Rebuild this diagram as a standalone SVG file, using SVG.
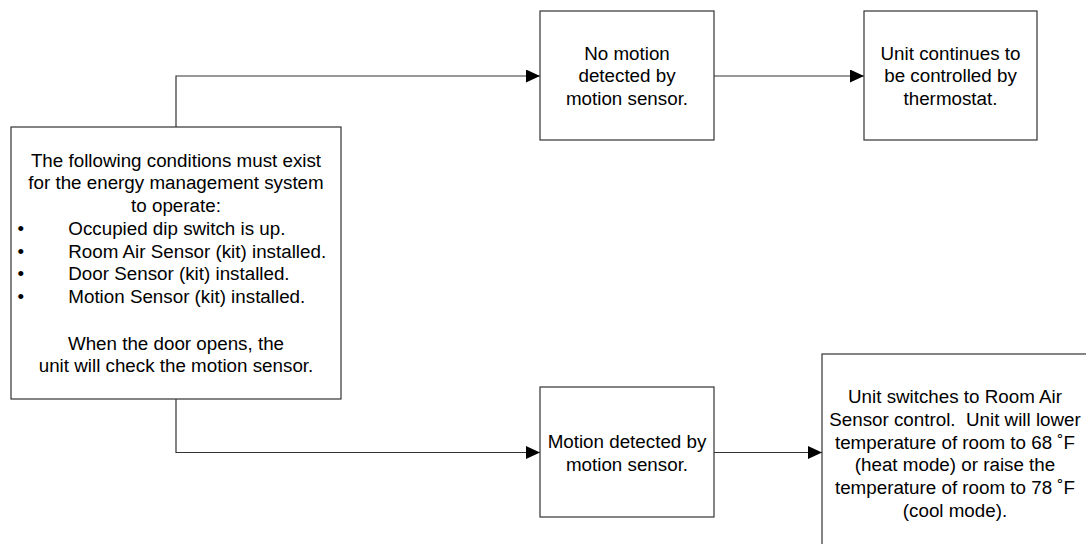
<svg xmlns="http://www.w3.org/2000/svg" width="1086" height="544" viewBox="0 0 1086 544">
<style>
.box{fill:#fff;stroke:#333;stroke-width:1.2}
.ln{fill:none;stroke:#333;stroke-width:1.2}
text{font-family:"Liberation Sans",Arial,sans-serif;font-size:18.8px;fill:#000;white-space:pre}
.c{text-anchor:middle}
</style>
<defs>
<marker id="arr" markerWidth="14" markerHeight="13" refX="14" refY="6.5" orient="auto" markerUnits="userSpaceOnUse">
<path d="M0,0 L14,6.5 L0,13 Z" fill="#000"/>
</marker>
</defs>
<rect width="1086" height="544" fill="#fff"/>
<g id="connectors">
<path class="ln" d="M176,127 V76 H540" marker-end="url(#arr)"/>
<path class="ln" d="M714,76 H864" marker-end="url(#arr)"/>
<path class="ln" d="M176,399 V452.5 H540" marker-end="url(#arr)"/>
<path class="ln" d="M714,452.5 H822" marker-end="url(#arr)"/>
</g>
<g id="conditions">
<rect class="box" x="11" y="127" width="330" height="272"/>
<text class="c" x="176" y="166.7">The following conditions must exist</text>
<text class="c" x="176" y="189.4">for the energy management system</text>
<text class="c" x="176" y="212.1">to operate:</text>
<text x="17.5" y="234.8">•</text><text x="68.3" y="234.8">Occupied dip switch is up.</text>
<text x="17.5" y="257.5">•</text><text x="68.3" y="257.5">Room Air Sensor (kit) installed.</text>
<text x="17.5" y="280.2">•</text><text x="68.3" y="280.2">Door Sensor (kit) installed.</text>
<text x="17.5" y="302.9">•</text><text x="68.3" y="302.9">Motion Sensor (kit) installed.</text>
<text class="c" x="176" y="349.5">When the door opens, the</text>
<text class="c" x="176" y="372.3">unit will check the motion sensor.</text>
</g>
<g id="no-motion">
<rect class="box" x="540" y="11" width="174" height="129"/>
<text class="c" x="627" y="59.5">No motion</text>
<text class="c" x="627" y="82.3">detected by</text>
<text class="c" x="627" y="105.1">motion sensor.</text>
</g>
<g id="thermostat">
<rect class="box" x="864" y="11" width="173" height="129"/>
<text class="c" x="950.5" y="59.5">Unit continues to</text>
<text class="c" x="950.5" y="82.3">be controlled by</text>
<text class="c" x="950.5" y="105.1">thermostat.</text>
</g>
<g id="motion">
<rect class="box" x="540" y="387" width="174" height="130"/>
<text class="c" x="627" y="448">Motion detected by</text>
<text class="c" x="627" y="470.8">motion sensor.</text>
</g>
<g id="room-air">
<rect class="box" x="822" y="354" width="266" height="200"/>
<text class="c" x="955" y="403">Unit switches to Room Air</text>
<text class="c" x="955" y="425.8" xml:space="preserve">Sensor control.  Unit will lower</text>
<text class="c" x="955" y="448.6">temperature of room to 68 ˚F</text>
<text class="c" x="955" y="471.4">(heat mode) or raise the</text>
<text class="c" x="955" y="494.2">temperature of room to 78 ˚F</text>
<text class="c" x="955" y="517">(cool mode).</text>
</g>
</svg>
